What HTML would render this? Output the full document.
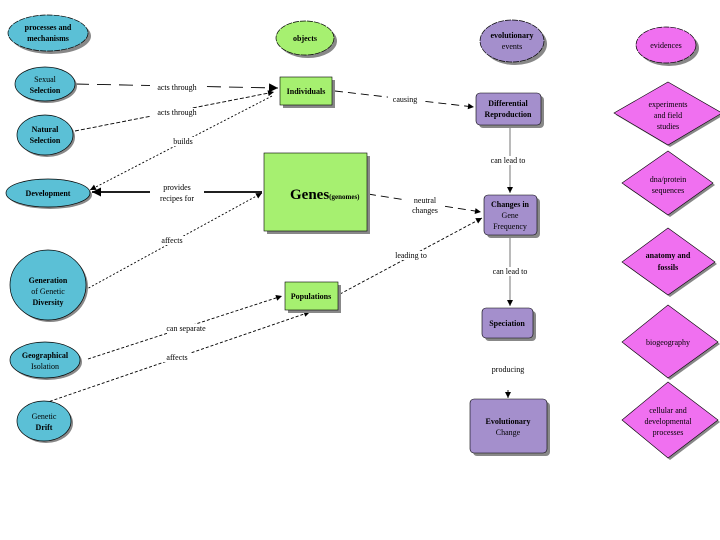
<!DOCTYPE html>
<html><head><meta charset="utf-8"><style>
html,body{margin:0;padding:0;background:#fff}
svg{display:block}
text{font-family:"Liberation Serif",serif;font-size:8px;fill:#000;text-anchor:middle}
.b{font-weight:bold}
</style></head><body>
<svg width="720" height="540" viewBox="0 0 720 540" xmlns="http://www.w3.org/2000/svg">
<defs>
<marker id="a" viewBox="0 0 10 10" refX="10" refY="5" markerWidth="8" markerHeight="6" orient="auto" markerUnits="userSpaceOnUse"><path d="M0,0L10,5L0,10z" fill="#000"/></marker>
<marker id="ab" viewBox="0 0 10 10" refX="10" refY="5" markerWidth="12" markerHeight="9" orient="auto" markerUnits="userSpaceOnUse"><path d="M0,0L10,5L0,10z" fill="#000"/></marker>
</defs>
<g stroke="#000" fill="none" stroke-width="0.9">
<path d="M75,84 L278,88" stroke-dasharray="14,8" marker-end="url(#ab)"/>
<path d="M75,131 L274,92" stroke-dasharray="4,2" marker-end="url(#a)"/>
<path d="M272,96 L90,190" stroke-dasharray="2,2" marker-end="url(#a)"/>
<path d="M262,192 L92,192" stroke-width="1.8" marker-end="url(#ab)"/>
<path d="M85,290 L262,193" stroke-dasharray="2,2" marker-end="url(#a)"/>
<path d="M335,91 L474,107" stroke-dasharray="8,5" marker-end="url(#a)"/>
<path d="M510,126 L510,193" stroke="#666" marker-end="url(#a)"/>
<path d="M368,194 L481,212" stroke-dasharray="8,5" marker-end="url(#a)"/>
<path d="M340,294 L482,218" stroke-dasharray="3,2" marker-end="url(#a)"/>
<path d="M510,236 L510,306" stroke="#666" marker-end="url(#a)"/>
<path d="M508,390 L508,398" marker-end="url(#a)"/>
<path d="M88,359 L282,296" stroke-dasharray="3,2" marker-end="url(#a)"/>
<path d="M45,403 L310,312" stroke-dasharray="3,2" marker-end="url(#a)"/>
</g>
<g fill="#fff">
<rect x="150" y="83" width="54" height="9"/><rect x="150" y="108" width="54" height="9"/>
<rect x="170" y="137" width="26" height="9"/><rect x="150" y="182" width="54" height="22"/>
<rect x="158" y="236" width="30" height="9"/><rect x="388" y="95" width="34" height="9"/>
<rect x="484" y="156" width="50" height="9"/><rect x="405" y="196" width="40" height="20"/>
<rect x="390" y="251" width="42" height="9"/><rect x="484" y="267" width="50" height="9"/>
<rect x="155" y="324" width="60" height="9"/><rect x="160" y="353" width="34" height="9"/>
</g>
<g>
<text x="177" y="90">acts through</text><text x="177" y="115">acts through</text>
<text x="183" y="144">builds</text><text x="177" y="190">provides</text><text x="177" y="201">recipes for</text>
<text x="172" y="243">affects</text><text x="405" y="102">causing</text>
<text x="508" y="163">can lead to</text><text x="425" y="203">neutral</text><text x="425" y="213">changes</text>
<text x="411" y="258">leading to</text><text x="510" y="274">can lead to</text>
<text x="508" y="372">producing</text><text x="186" y="331">can separate</text><text x="177" y="360">affects</text>
</g>
<!-- clouds -->
<g stroke="#000" stroke-width="0.7">
<g transform="translate(3,3)" fill="#888" stroke="none"><ellipse cx="48" cy="33" rx="40" ry="18"/><ellipse cx="305" cy="38" rx="29" ry="17"/><ellipse cx="512" cy="41" rx="32" ry="21"/><ellipse cx="666" cy="45" rx="30" ry="18"/></g>
<ellipse cx="48" cy="33" rx="40" ry="18" fill="#5bc0d6" stroke-dasharray="6,1"/>
<ellipse cx="305" cy="38" rx="29" ry="17" fill="#a6f070" stroke-dasharray="6,1"/>
<ellipse cx="512" cy="41" rx="32" ry="21" fill="#a48fcc" stroke-dasharray="6,1"/>
<ellipse cx="666" cy="45" rx="30" ry="18" fill="#f070f0" stroke-dasharray="6,1"/>
</g>
<text x="48" y="30" class="b">processes and</text><text x="48" y="41" class="b">mechanisms</text>
<text x="305" y="41" class="b">objects</text>
<text x="512" y="38" class="b">evolutionary</text><text x="512" y="49">events</text>
<text x="666" y="48">evidences</text>
<!-- ellipses -->
<g fill="#888"><ellipse cx="47" cy="86" rx="30" ry="17"/><ellipse cx="47" cy="137" rx="28" ry="20"/><ellipse cx="50" cy="195" rx="42" ry="14"/><ellipse cx="50" cy="287" rx="38" ry="35"/><ellipse cx="47" cy="362" rx="35" ry="18"/><ellipse cx="46" cy="423" rx="27" ry="20"/></g>
<g fill="#5bc0d6" stroke="#000" stroke-width="0.7"><ellipse cx="45" cy="84" rx="30" ry="17"/><ellipse cx="45" cy="135" rx="28" ry="20"/><ellipse cx="48" cy="193" rx="42" ry="14"/><ellipse cx="48" cy="285" rx="38" ry="35"/><ellipse cx="45" cy="360" rx="35" ry="18"/><ellipse cx="44" cy="421" rx="27" ry="20"/></g>
<text x="45" y="82">Sexual</text><text x="45" y="93" class="b">Selection</text>
<text x="45" y="132" class="b">Natural</text><text x="45" y="143" class="b">Selection</text>
<text x="48" y="196" class="b">Development</text>
<text x="48" y="283" class="b">Generation</text><text x="48" y="294">of Genetic</text><text x="48" y="305" class="b">Diversity</text>
<text x="45" y="358" class="b">Geographical</text><text x="45" y="369">Isolation</text>
<text x="44" y="419">Genetic</text><text x="44" y="430" class="b">Drift</text>
<!-- green rects -->
<g fill="#888"><rect x="283" y="80" width="52" height="28"/><rect x="267" y="156" width="103" height="78"/><rect x="288" y="285" width="53" height="28"/></g>
<g fill="#a6f070" stroke="#000" stroke-width="0.6"><rect x="280" y="77" width="52" height="28"/><rect x="264" y="153" width="103" height="78"/><rect x="285" y="282" width="53" height="28"/></g>
<text x="306" y="94" class="b">Individuals</text>
<text x="290" y="199" style="font-size:15px;text-anchor:start" class="b">Genes<tspan style="font-size:7px">(genomes)</tspan></text>
<text x="311" y="299" class="b">Populations</text>
<!-- purple -->
<g fill="#888"><rect x="479" y="96" width="65" height="32" rx="4"/><rect x="487" y="198" width="53" height="40" rx="4"/><rect x="485" y="311" width="51" height="30" rx="4"/><rect x="473" y="402" width="77" height="54" rx="4"/></g>
<g fill="#a48fcc" stroke="#000" stroke-width="0.6"><rect x="476" y="93" width="65" height="32" rx="4"/><rect x="484" y="195" width="53" height="40" rx="4"/><rect x="482" y="308" width="51" height="30" rx="4"/><rect x="470" y="399" width="77" height="54" rx="4"/></g>
<text x="508" y="106" class="b">Differential</text><text x="508" y="117" class="b">Reproduction</text>
<text x="510" y="207" class="b">Changes in</text><text x="510" y="218">Gene</text><text x="510" y="229">Frequency</text>
<text x="507" y="326" class="b">Speciation</text>
<text x="508" y="424" class="b">Evolutionary</text><text x="508" y="435">Change</text>
<!-- diamonds -->
<g fill="#888" transform="translate(2,2)"><path d="M668,82L722,113L668,145L614,113z"/><path d="M668,151L713,183L668,215L622,183z"/><path d="M668,228L715,262L668,295L622,262z"/><path d="M668,305L718,342L668,378L622,342z"/><path d="M668,382L718,420L668,458L622,420z"/></g>
<g fill="#f070f0" stroke="#000" stroke-width="0.6"><path d="M668,82L722,113L668,145L614,113z"/><path d="M668,151L713,183L668,215L622,183z"/><path d="M668,228L715,262L668,295L622,262z"/><path d="M668,305L718,342L668,378L622,342z"/><path d="M668,382L718,420L668,458L622,420z"/></g>
<text x="668" y="107">experiments</text><text x="668" y="118">and field</text><text x="668" y="129">studies</text>
<text x="668" y="182">dna/protein</text><text x="668" y="193">sequences</text>
<text x="668" y="258" class="b">anatomy and</text><text x="668" y="270" class="b">fossils</text>
<text x="668" y="345">biogeography</text>
<text x="668" y="413">cellular and</text><text x="668" y="424">developmental</text><text x="668" y="435">processes</text>
</svg>
</body></html>
